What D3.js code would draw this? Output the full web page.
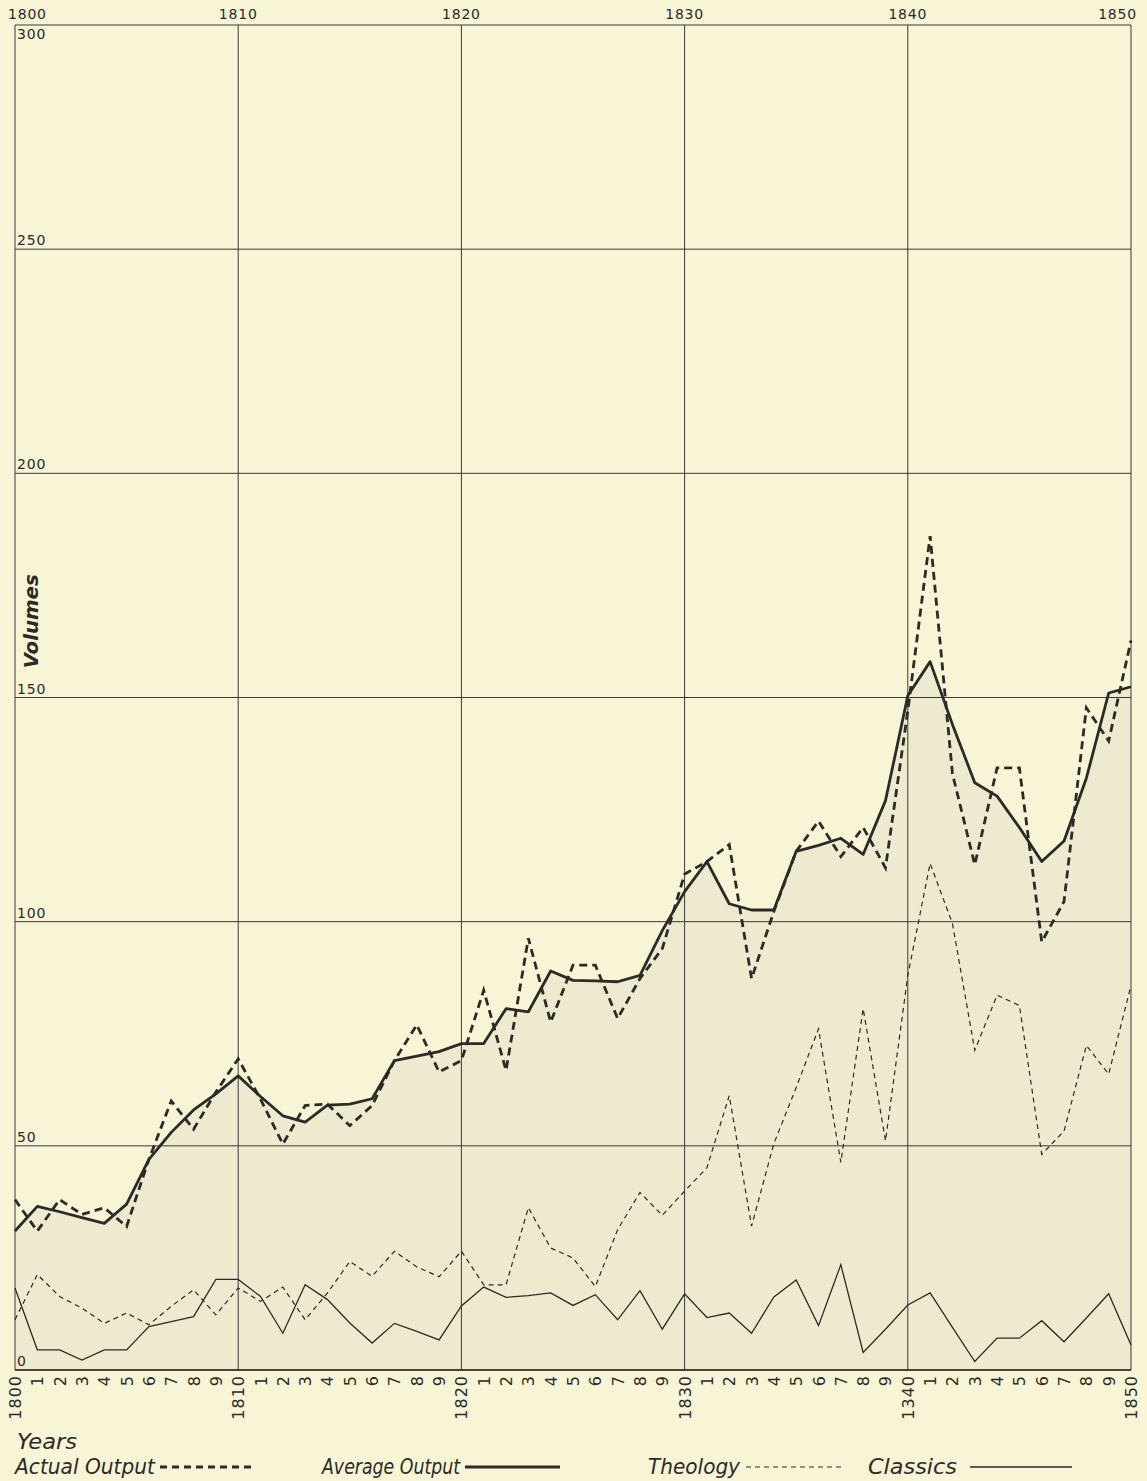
<!DOCTYPE html>
<html>
<head>
<meta charset="utf-8">
<script src="https://cdn.jsdelivr.net/npm/d3@7"></script>
<style>
  body { margin: 0; background: #f8f4d6; }
  svg { display: block; }
</style>
</head>
<body>
<div id="chart"></div>
<script>
"use strict";

// years 1800 .. 1850
const years = d3.range(1800, 1851);

// Actual Output (heavy dashed)
const actual = [38, 31, 38, 34.7, 36.2, 32, 47, 60, 53.7, 62,
    69.4, 60.4, 50.4, 59, 59.3, 54.5, 59, 69, 77, 66.5,
    69, 84.7, 66.8, 96.3, 77.6, 90.3, 90.3, 78.4, 87.3, 94,
    110.6, 113.4, 117.2, 87.3, 102.3, 115.7, 122.4, 114.5, 121, 112,
    147, 186, 133, 112.7, 134.3, 134.3, 95.5, 104.5, 147.7, 140.3,
    162.7];

// Average Output (heavy solid)
const average = [31, 36.5, 35.3, 34, 32.7, 37, 47, 53, 58, 61.6,
    65.6, 61, 56.7, 55.3, 59.1, 59.3, 60.5, 69, 70, 71,
    72.8, 72.8, 80.6, 79.9, 89, 86.9, 86.8, 86.6, 88, 98,
    106.7, 113.4, 104, 102.6, 102.6, 115.7, 117, 118.6, 115, 127,
    150.4, 158, 144, 131, 128, 121, 113.4, 118, 132, 151,
    152.4];

// Theology (light dashed)
const theology = [11.2, 21.3, 16.4, 13.8, 10.4, 12.7, 10.1, 14.2, 17.9, 12.3,
    18.3, 15.3, 18.5, 11.2, 17.2, 24.2, 20.9, 26.5, 23, 20.8,
    26.5, 19, 19, 36.2, 27.2, 25, 18.6, 31.3, 39.6, 34.5,
    39.9, 45.1, 61.2, 32.1, 50.5, 63, 76.1, 46.3, 80.6, 51.1,
    88, 113, 99.6, 71.3, 83.6, 81.3, 48.1, 53.3, 72.4, 66,
    85.8];

// Classics (light solid)
const classics = [18.3, 4.5, 4.5, 2.2, 4.5, 4.5, 9.7, 10.8, 11.9, 20.2,
    20.2, 16.4, 8.2, 19, 15.7, 10.5, 6, 10.4, 8.6, 6.7,
    14.3, 18.5, 16.2, 16.6, 17.2, 14.4, 16.8, 11.2, 17.7, 9.1,
    17, 11.7, 12.7, 8.2, 16.3, 20.1, 9.9, 23.5, 3.9, 9.1,
    14.5, 17.2, 9.5, 1.9, 7.1, 7.1, 11, 6.3, 11.6, 17,
    5.6];

const yTicks = [0, 50, 100, 150, 200, 250, 300];
const topTicks = [1800, 1810, 1820, 1830, 1840, 1850];
// bottom labels as printed (the 1840 one reads "1340" on the plate)
const bottomLabels = years.map(y => y % 10 === 0 ? (y === 1840 ? "1340" : String(y)) : String(y % 10));

const width = 1147;
const height = 1481;
const margin = ({top: 25, right: 16, bottom: 111, left: 15});

const x = d3.scaleLinear()
    .domain([1800, 1850])
    .range([margin.left, width - margin.right]);

const y = d3.scaleLinear()
    .domain([0, 300])
    .range([height - margin.bottom, margin.top]);

const ink = "#2b2a26";

const svg = d3.select("#chart").append("svg")
    .attr("width", width)
    .attr("height", height)
    .style("font-family", "'DejaVu Sans', sans-serif");

svg.append("rect")
    .attr("width", width)
    .attr("height", height)
    .attr("fill", "#f8f4d6");

// light grey tint under the average curve
const area = d3.area()
    .x((d, i) => x(years[i]))
    .y0(y(0))
    .y1(d => y(d));

svg.append("path")
    .attr("d", area(average))
    .attr("fill", "#dcdcc6")
    .attr("fill-opacity", 0.4);

// grid
const grid = svg.append("g")
    .attr("stroke", "#3a3935")
    .attr("stroke-width", 1);

grid.selectAll("line.h")
    .data(yTicks)
    .join("line")
    .attr("class", "h")
    .attr("x1", x(1800))
    .attr("x2", x(1850))
    .attr("y1", d => y(d))
    .attr("y2", d => y(d));

grid.selectAll("line.v")
    .data(topTicks)
    .join("line")
    .attr("class", "v")
    .attr("x1", d => x(d))
    .attr("x2", d => x(d))
    .attr("y1", y(300))
    .attr("y2", y(0));

// bottom axis baseline, a bit heavier
svg.append("line")
    .attr("x1", x(1800)).attr("x2", x(1850))
    .attr("y1", y(0)).attr("y2", y(0))
    .attr("stroke", ink).attr("stroke-width", 1.5);

// top year labels
svg.append("g")
    .selectAll("text")
    .data(topTicks)
    .join("text")
    .attr("x", d => x(d))
    .attr("y", 19)
    .attr("text-anchor", (d, i) => i === 0 ? "start" : (i === topTicks.length - 1 ? "end" : "middle"))
    .attr("dx", (d, i) => i === 0 ? -7 : (i === topTicks.length - 1 ? 6 : 0))
    .attr("font-size", 14)
    .attr("letter-spacing", 0.8)
    .attr("fill", ink)
    .text(d => d);

// left value labels inside the frame
svg.append("g")
    .selectAll("text")
    .data(yTicks)
    .join("text")
    .attr("x", x(1800) + 2)
    .attr("y", d => d === 300 ? y(d) + 14 : y(d) - 4)
    .attr("font-size", 14)
    .attr("letter-spacing", 0.8)
    .attr("fill", ink)
    .text(d => d);

// bottom rotated year labels
svg.append("g")
    .selectAll("text")
    .data(years)
    .join("text")
    .attr("transform", d => `translate(${x(d) + 6},${y(0) + 5}) rotate(-90)`)
    .attr("text-anchor", "end")
    .attr("font-size", 16)
    .attr("letter-spacing", 1)
    .attr("fill", ink)
    .text((d, i) => bottomLabels[i]);

// lines
const line = d3.line()
    .x((d, i) => x(years[i]))
    .y(d => y(d));

svg.append("path")
    .attr("d", line(classics))
    .attr("fill", "none")
    .attr("stroke", ink)
    .attr("stroke-width", 1.3);

svg.append("path")
    .attr("d", line(theology))
    .attr("fill", "none")
    .attr("stroke", ink)
    .attr("stroke-width", 1.2)
    .attr("stroke-dasharray", "5,4");

svg.append("path")
    .attr("d", line(average))
    .attr("fill", "none")
    .attr("stroke", ink)
    .attr("stroke-width", 2.8)
    .attr("stroke-linejoin", "round");

svg.append("path")
    .attr("d", line(actual))
    .attr("fill", "none")
    .attr("stroke", ink)
    .attr("stroke-width", 2.8)
    .attr("stroke-dasharray", "8,5");

// axis titles
svg.append("text")
    .attr("transform", `translate(38,${y(167)}) rotate(-90)`)
    .attr("text-anchor", "middle")
    .attr("font-size", 20)
    .attr("font-style", "italic")
    .attr("font-weight", "bold")
    .attr("textLength", 94)
    .attr("lengthAdjust", "spacingAndGlyphs")
    .attr("fill", ink)
    .text("Volumes");

svg.append("text")
    .attr("x", 17)
    .attr("y", 1449)
    .attr("font-size", 21)
    .attr("font-style", "italic")
    .attr("textLength", 60)
    .attr("lengthAdjust", "spacingAndGlyphs")
    .attr("fill", ink)
    .text("Years");

// legend
const legend = [
    {label: "Actual Output", x: 15, len: 140, sx: 160, ex: 252, w: 2.8, dash: "7,5"},
    {label: "Average Output", x: 322, len: 138, sx: 465, ex: 560, w: 2.8, dash: null},
    {label: "Theology", x: 648, len: 92, sx: 746, ex: 845, w: 1.2, dash: "5,4"},
    {label: "Classics", x: 868, len: 89, sx: 970, ex: 1072, w: 1.3, dash: null}
];

const lg = svg.append("g");

lg.selectAll("text")
    .data(legend)
    .join("text")
    .attr("x", d => d.x)
    .attr("y", 1474)
    .attr("font-size", 21)
    .attr("font-style", "italic")
    .attr("textLength", d => d.len)
    .attr("lengthAdjust", "spacingAndGlyphs")
    .attr("fill", ink)
    .text(d => d.label);

lg.selectAll("line")
    .data(legend)
    .join("line")
    .attr("x1", d => d.sx)
    .attr("x2", d => d.ex)
    .attr("y1", 1467)
    .attr("y2", 1467)
    .attr("stroke", ink)
    .attr("stroke-width", d => d.w)
    .attr("stroke-dasharray", d => d.dash);
</script>
</body>
</html>
